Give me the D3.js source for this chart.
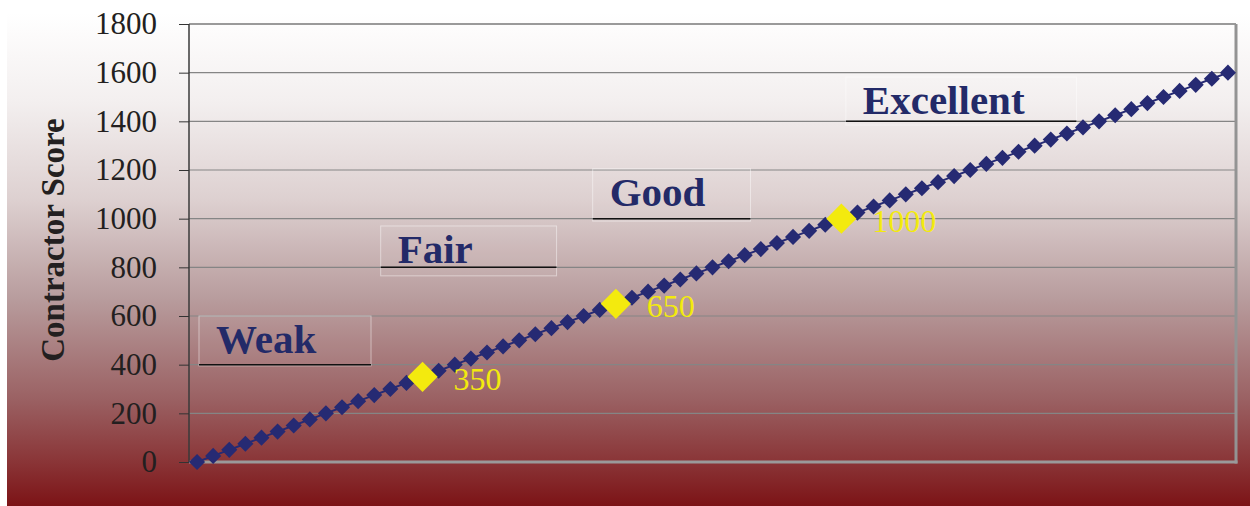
<!DOCTYPE html>
<html>
<head>
<meta charset="utf-8">
<script src="https://cdn.jsdelivr.net/npm/d3@7/dist/d3.min.js"></script>
<style>
	html, body { margin: 0; padding: 0; background: #ffffff; }
	svg { display: block; }
	svg text { font-family: 'Liberation Serif', 'Times New Roman', 'DejaVu Serif', serif; }
</style>
</head>
<body>
<div id="chart"></div>
<script>
	var w = 1250;
	var h = 506;
	var serif = "'Liberation Serif', 'Times New Roman', 'DejaVu Serif', serif";

	// contractor score series, one diamond per step
	var scores = [
		0, 25, 50, 75, 100, 125, 150, 175, 200, 225,
		250, 275, 300, 325, 350, 375, 400, 425, 450, 475,
		500, 525, 550, 575, 600, 625, 650, 675, 700, 725,
		750, 775, 800, 825, 850, 875, 900, 925, 950, 975,
		1000, 1025, 1050, 1075, 1100, 1125, 1150, 1175, 1200, 1225,
		1250, 1275, 1300, 1325, 1350, 1375, 1400, 1425, 1450, 1475,
		1500, 1525, 1550, 1575, 1600
	];

	var highlightScores = [350, 650, 1000];
	var highlightLabels = ['350', '650', '1000'];

	var yTicks = [0, 200, 400, 600, 800, 1000, 1200, 1400, 1600, 1800];
	var yTitle = 'Contractor Score';

	// rating bands: label, where the box starts along the score line, its width, and its top / underline / bottom values
	var bandLabels = ['Weak', 'Fair', 'Good', 'Excellent'];
	var bandStart = [3, 285, 614, 1007];
	var bandWidth = [267, 273, 245, 358];
	var bandTop = [600, 970, 1205, 1582];
	var bandLine = [400, 800, 1000, 1400];
	var bandBottom = [395, 765, 990, 1385];

	var plot = { left: 189, top: 24, right: 1236, bottom: 462 };

	var svg = d3.select('#chart')
		.append('svg')
		.attr('width', w)
		.attr('height', h);

	var defs = svg.append('defs');
	var grad = defs.append('linearGradient')
		.attr('id', 'bg')
		.attr('x1', 0).attr('y1', 0)
		.attr('x2', 0).attr('y2', 1);
	[
		[0, '#ffffff'], [0.18, '#f3efef'], [0.38, '#ddd0d0'],
		[0.58, '#b89c9d'], [0.78, '#9b6264'], [0.91, '#8a3537'], [1, '#7c1316']
	].forEach(function (s) {
		grad.append('stop').attr('offset', s[0]).attr('stop-color', s[1]);
	});

	svg.append('rect')
		.attr('x', 7)
		.attr('y', 13)
		.attr('width', w - 7)
		.attr('height', h - 13)
		.attr('fill', 'url(#bg)');

	var x = d3.scalePoint()
		.domain(scores.map(function (d, i) { return i; }))
		.range([plot.left, plot.right])
		.padding(0.5);

	// same positions, read as a score along the line
	var xs = d3.scaleLinear()
		.domain([scores[0], scores[scores.length - 1]])
		.range([x(0), x(scores.length - 1)]);

	var y = d3.scaleLinear()
		.domain([0, 1800])
		.range([plot.bottom, plot.top]);

	// gridlines
	svg.append('g')
		.selectAll('line')
		.data(yTicks.filter(function (d) { return d > 0; }))
		.enter()
		.append('line')
		.attr('x1', plot.left)
		.attr('x2', plot.right)
		.attr('y1', function (d) { return y(d); })
		.attr('y2', function (d) { return y(d); })
		.attr('stroke', function (d) { return d === 1800 ? '#9a9a9a' : '#858585'; })
		.attr('stroke-width', function (d) { return d === 1800 ? 2 : 1.2; });

	// plot frame, right and bottom
	svg.append('line')
		.attr('x1', plot.right).attr('x2', plot.right)
		.attr('y1', plot.top).attr('y2', plot.bottom + 1.5)
		.attr('stroke', '#939393')
		.attr('stroke-width', 3);
	svg.append('line')
		.attr('x1', plot.left).attr('x2', plot.right + 1.5)
		.attr('y1', plot.bottom).attr('y2', plot.bottom)
		.attr('stroke', '#9a9a9a')
		.attr('stroke-width', 3);

	// y axis
	var yAxis = d3.axisLeft(y)
		.tickValues(yTicks)
		.tickSize(10)
		.tickPadding(22)
		.tickFormat(function (d) { return String(d); });

	var ya = svg.append('g')
		.attr('transform', 'translate(' + plot.left + ',0)')
		.call(yAxis);
	ya.attr('font-family', serif);
	ya.select('.domain')
		.attr('stroke', '#3a3a3a')
		.attr('stroke-width', 1.5)
		.attr('d', 'M0,' + plot.top + 'V' + plot.bottom);
	ya.selectAll('.tick line').attr('stroke', '#333333');
	ya.selectAll('.tick text')
		.attr('font-family', serif)
		.attr('font-size', '31px')
		.attr('fill', '#231f20');

	svg.append('text')
		.text(yTitle)
		.attr('transform', 'translate(64,240) rotate(-90)')
		.attr('text-anchor', 'middle')
		.attr('font-family', serif)
		.attr('font-weight', 'bold')
		.attr('font-size', '33px')
		.attr('fill', '#231f20');

	// rating band boxes
	var bands = svg.append('g')
		.selectAll('g')
		.data(bandLabels)
		.enter()
		.append('g');

	bands.append('rect')
		.attr('x', function (d, i) { return xs(bandStart[i]); })
		.attr('y', function (d, i) { return y(bandTop[i]); })
		.attr('width', function (d, i) { return xs(bandStart[i] + bandWidth[i]) - xs(bandStart[i]); })
		.attr('height', function (d, i) { return y(bandBottom[i]) - y(bandTop[i]); })
		.attr('fill', 'rgba(255,255,255,0.04)')
		.attr('stroke', 'rgba(255,255,255,0.45)')
		.attr('stroke-width', 1);

	bands.append('line')
		.attr('x1', function (d, i) { return xs(bandStart[i]); })
		.attr('x2', function (d, i) { return xs(bandStart[i] + bandWidth[i]); })
		.attr('y1', function (d, i) { return y(bandLine[i]); })
		.attr('y2', function (d, i) { return y(bandLine[i]); })
		.attr('stroke', '#111111')
		.attr('stroke-width', 1.5);

	bands.append('text')
		.text(function (d) { return d; })
		.attr('x', function (d, i) { return xs(bandStart[i]) + 17; })
		.attr('y', function (d, i) { return y(bandTop[i]) + 37; })
		.attr('font-family', serif)
		.attr('font-weight', 'bold')
		.attr('font-size', '41px')
		.attr('fill', '#232a68');

	// series line and diamonds
	var lineFn = d3.line()
		.x(function (d, i) { return x(i); })
		.y(function (d) { return y(d); });

	svg.append('path')
		.attr('d', lineFn(scores))
		.attr('fill', 'none')
		.attr('stroke', '#262a73')
		.attr('stroke-width', 2);

	svg.append('g')
		.selectAll('path')
		.data(scores)
		.enter()
		.append('path')
		.attr('d', d3.symbol().type(d3.symbolDiamond2).size(165)())
		.attr('transform', function (d, i) { return 'translate(' + x(i) + ',' + y(d) + ')'; })
		.attr('fill', '#262a73');

	// highlighted thresholds
	var hl = svg.append('g')
		.selectAll('g')
		.data(highlightScores)
		.enter()
		.append('g')
		.attr('transform', function (d) { return 'translate(' + x(scores.indexOf(d)) + ',' + y(d) + ')'; });

	hl.append('path')
		.attr('d', d3.symbol().type(d3.symbolDiamond2).size(580)())
		.attr('fill', '#f3ea0e');

	hl.append('text')
		.text(function (d, i) { return highlightLabels[i]; })
		.attr('x', 31)
		.attr('y', 13)
		.attr('font-family', serif)
		.attr('font-size', '32px')
		.attr('fill', '#f3ea0e');
</script>
</body>
</html>
